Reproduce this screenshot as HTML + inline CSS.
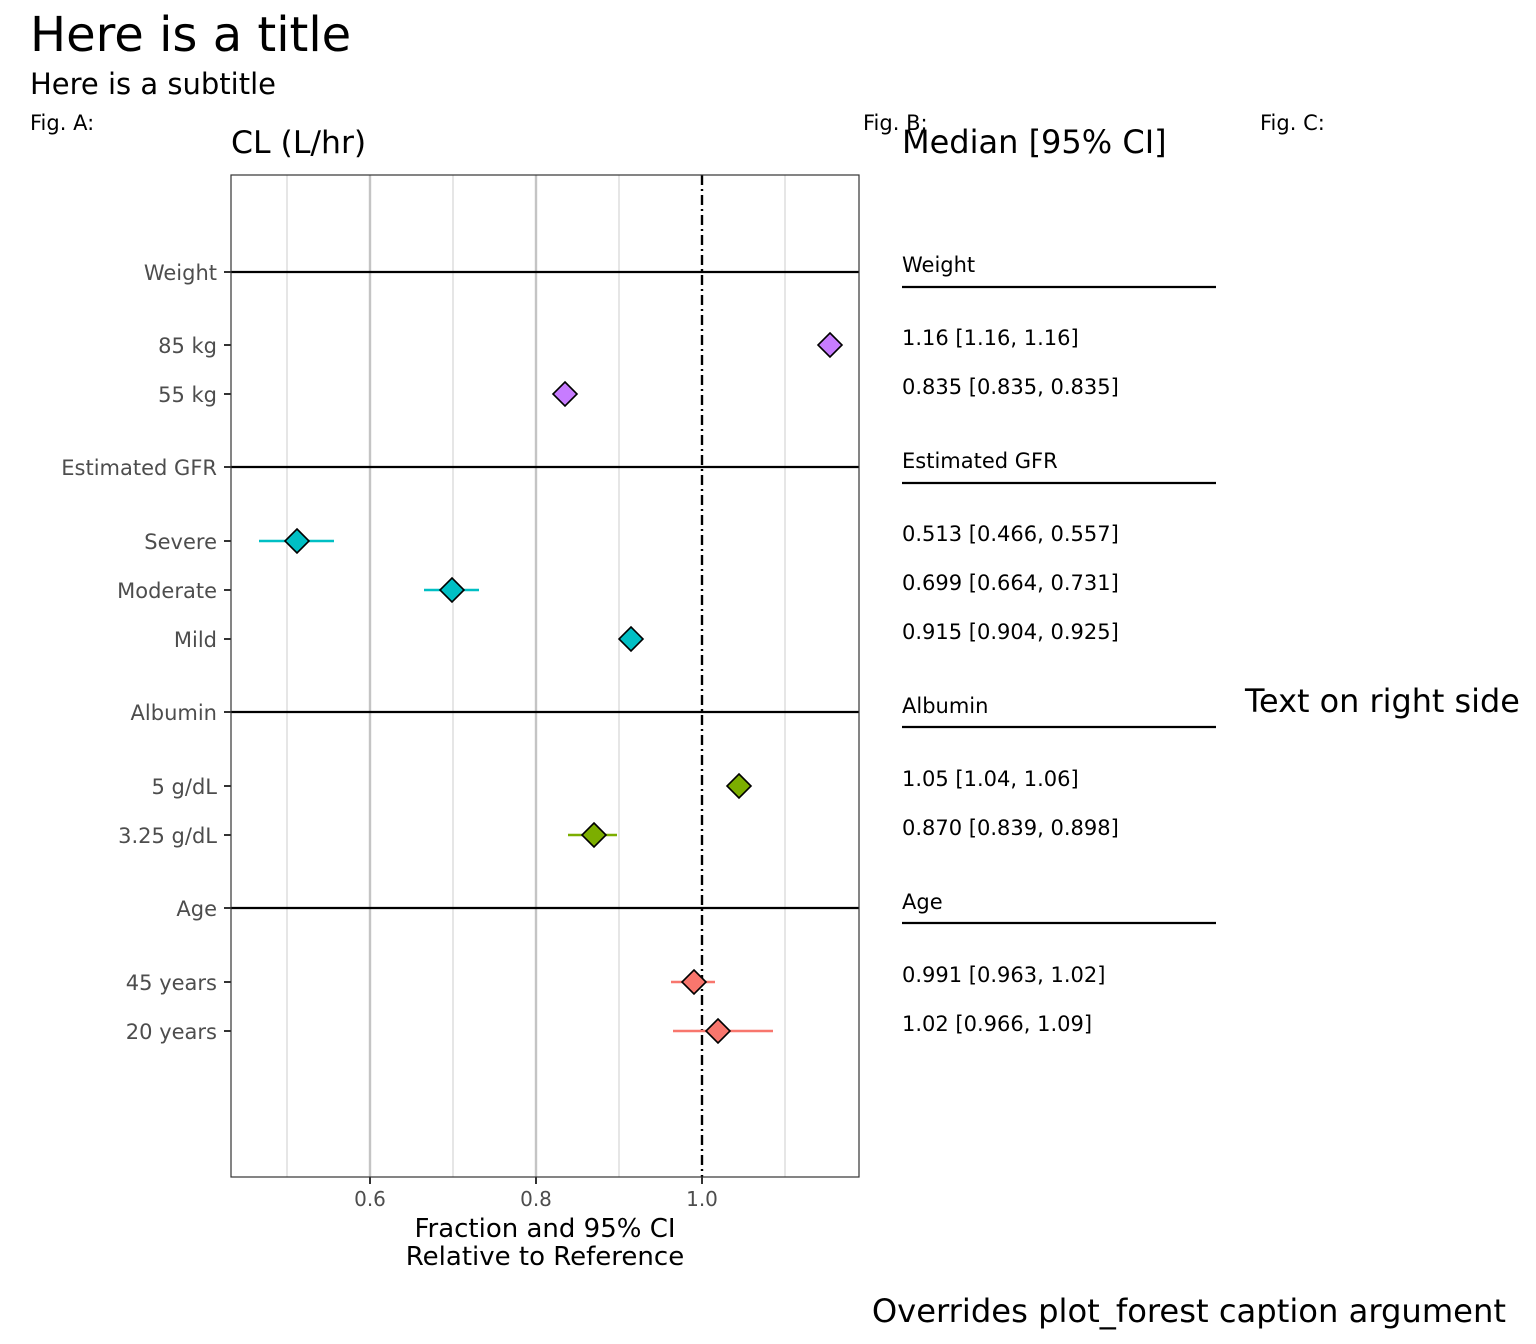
<!DOCTYPE html>
<html><head><meta charset="utf-8"><style>
html,body{margin:0;padding:0;background:#fff;}
svg{display:block;font-family:"DejaVu Sans","Liberation Sans",sans-serif;}
</style></head><body>
<svg width="1536" height="1344" viewBox="0 0 1536 1344" xmlns="http://www.w3.org/2000/svg">
<rect width="1536" height="1344" fill="#fff"/>
<text x="30" y="51" font-size="48" fill="#000">Here is a title</text>
<text x="30" y="94" font-size="29" fill="#000">Here is a subtitle</text>
<text x="30" y="130" font-size="21" fill="#000">Fig. A:</text>
<text x="863" y="130" font-size="21" fill="#000">Fig. B:</text>
<text x="1260" y="130" font-size="21" fill="#000">Fig. C:</text>
<text x="231" y="153" font-size="31.5" fill="#000">CL (L/hr)</text>
<text x="902" y="153" font-size="32" fill="#000">Median [95% CI]</text>

<g stroke="#d6d6d6" stroke-width="1.2">
<line x1="287" y1="175" x2="287" y2="1177"/>
<line x1="453" y1="175" x2="453" y2="1177"/>
<line x1="619" y1="175" x2="619" y2="1177"/>
<line x1="785" y1="175" x2="785" y2="1177"/>
</g>
<g stroke="#c4c4c4" stroke-width="2.4">
<line x1="370" y1="175" x2="370" y2="1177"/>
<line x1="536" y1="175" x2="536" y2="1177"/>
</g>
<line x1="702" y1="175" x2="702" y2="1177" stroke="#000" stroke-width="2.4" stroke-dasharray="10,4,2,4"/>
<g stroke="#000" stroke-width="2.2">
<line x1="231" y1="272" x2="859" y2="272"/>
<line x1="231" y1="467" x2="859" y2="467"/>
<line x1="231" y1="712" x2="859" y2="712"/>
<line x1="231" y1="908" x2="859" y2="908"/>
</g>
<rect x="231" y="175" width="628" height="1002" fill="none" stroke="#333" stroke-width="1.2"/>

<g stroke="#333" stroke-width="2">
<line x1="224" y1="272" x2="231" y2="272"/><line x1="224" y1="345" x2="231" y2="345"/><line x1="224" y1="394" x2="231" y2="394"/>
<line x1="224" y1="467" x2="231" y2="467"/><line x1="224" y1="541" x2="231" y2="541"/><line x1="224" y1="590" x2="231" y2="590"/>
<line x1="224" y1="639" x2="231" y2="639"/><line x1="224" y1="712" x2="231" y2="712"/><line x1="224" y1="786" x2="231" y2="786"/>
<line x1="224" y1="835" x2="231" y2="835"/><line x1="224" y1="908" x2="231" y2="908"/><line x1="224" y1="982" x2="231" y2="982"/>
<line x1="224" y1="1031" x2="231" y2="1031"/>
<line x1="370" y1="1177" x2="370" y2="1184"/><line x1="536" y1="1177" x2="536" y2="1184"/><line x1="702" y1="1177" x2="702" y2="1184"/>
</g>
<g font-size="21" fill="#4d4d4d" text-anchor="end">
<text x="217" y="280">Weight</text><text x="217" y="353">85 kg</text><text x="217" y="402">55 kg</text>
<text x="217" y="475">Estimated GFR</text><text x="217" y="549">Severe</text><text x="217" y="598">Moderate</text>
<text x="217" y="647">Mild</text><text x="217" y="720">Albumin</text><text x="217" y="794">5 g/dL</text>
<text x="217" y="843">3.25 g/dL</text><text x="217" y="916">Age</text><text x="217" y="990">45 years</text>
<text x="217" y="1039">20 years</text>
</g>
<g font-size="20" fill="#4d4d4d" text-anchor="middle">
<text x="370" y="1206">0.6</text><text x="536" y="1206">0.8</text><text x="702" y="1206">1.0</text>
</g>
<g font-size="26" fill="#000" text-anchor="middle">
<text x="545" y="1237">Fraction and 95% CI</text>
<text x="545" y="1265">Relative to Reference</text>
</g>

<g stroke-width="2.4">
<line x1="259" y1="541" x2="334" y2="541" stroke="#00BFC4"/>
<line x1="424" y1="590" x2="479" y2="590" stroke="#00BFC4"/>
<line x1="620" y1="639" x2="639" y2="639" stroke="#00BFC4"/>
<line x1="733" y1="786" x2="749" y2="786" stroke="#7CAE00"/>
<line x1="568" y1="835" x2="617" y2="835" stroke="#7CAE00"/>
<line x1="671" y1="982" x2="715" y2="982" stroke="#F8766D"/>
<line x1="673" y1="1031" x2="773" y2="1031" stroke="#F8766D"/>
</g>
<g stroke="#000" stroke-width="1.6">
<path d="M830,333 L842,345 L830,357 L818,345Z" fill="#C77CFF"/>
<path d="M565,382 L577,394 L565,406 L553,394Z" fill="#C77CFF"/>
<path d="M297,529 L309,541 L297,553 L285,541Z" fill="#00BFC4"/>
<path d="M452,578 L464,590 L452,602 L440,590Z" fill="#00BFC4"/>
<path d="M631,627 L643,639 L631,651 L619,639Z" fill="#00BFC4"/>
<path d="M739,774 L751,786 L739,798 L727,786Z" fill="#7CAE00"/>
<path d="M594,823 L606,835 L594,847 L582,835Z" fill="#7CAE00"/>
<path d="M694,970 L706,982 L694,994 L682,982Z" fill="#F8766D"/>
<path d="M718,1019 L730,1031 L718,1043 L706,1031Z" fill="#F8766D"/>
</g>

<g stroke="#000" stroke-width="2.2">
<line x1="902" y1="287" x2="1216" y2="287"/><line x1="902" y1="483" x2="1216" y2="483"/>
<line x1="902" y1="727" x2="1216" y2="727"/><line x1="902" y1="923" x2="1216" y2="923"/>
</g>
<g font-size="21" fill="#000">
<text x="902" y="272">Weight</text><text x="902" y="345">1.16 [1.16, 1.16]</text><text x="902" y="394">0.835 [0.835, 0.835]</text>
<text x="902" y="468">Estimated GFR</text><text x="902" y="541">0.513 [0.466, 0.557]</text><text x="902" y="590">0.699 [0.664, 0.731]</text>
<text x="902" y="639">0.915 [0.904, 0.925]</text><text x="902" y="713">Albumin</text><text x="902" y="786">1.05 [1.04, 1.06]</text>
<text x="902" y="835">0.870 [0.839, 0.898]</text><text x="902" y="909">Age</text><text x="902" y="982">0.991 [0.963, 1.02]</text>
<text x="902" y="1031">1.02 [0.966, 1.09]</text>
</g>
<text x="1245" y="712" font-size="31.9" fill="#000">Text on right side</text>
<text x="1506" y="1322" font-size="32.2" fill="#000" text-anchor="end">Overrides plot_forest caption argument</text>
</svg>
</body></html>
